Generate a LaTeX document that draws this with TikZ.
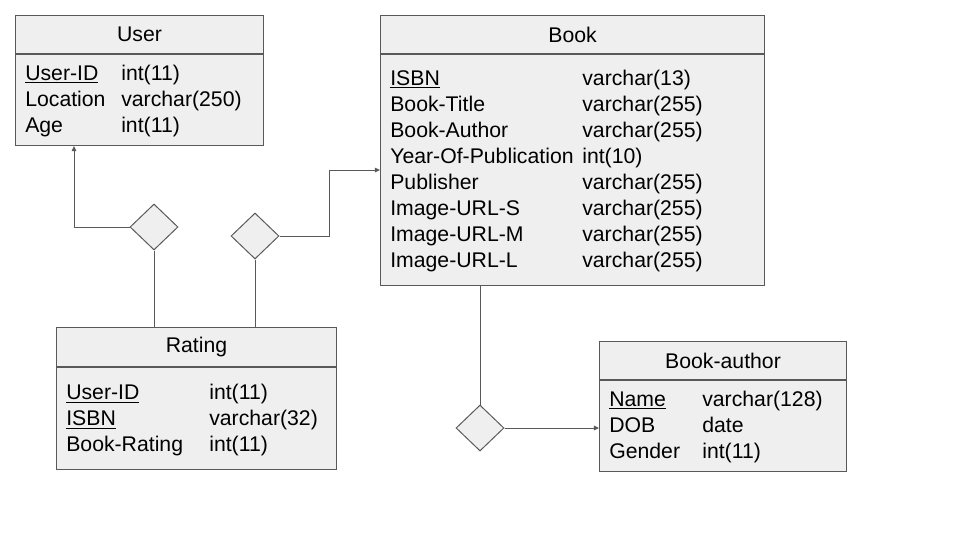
\documentclass[tikz,border=0pt]{standalone}
\usepackage{fontspec}
\setmainfont{Liberation Sans}
\usepackage{array}
\usetikzlibrary{shapes.geometric,arrows.meta,positioning,calc}
\definecolor{boxgray}{HTML}{EFEFEF}
\definecolor{linegray}{HTML}{595959}
\newcommand{\erfont}{\fontsize{15.1}{18.5}\selectfont}

\begin{document}
\begin{tikzpicture}[x=0.025cm, y=-0.025cm,
    entityhead/.style={draw=linegray, fill=boxgray, line width=0.7pt, anchor=north west,
                       minimum height=0.95cm, inner sep=0pt, font=\erfont},
    entitybody/.style={draw=linegray, fill=boxgray, line width=0.7pt, anchor=north,
                       inner sep=0pt},
    fields/.style={anchor=west, inner sep=0pt, font=\erfont, align=left},
    relation/.style={draw=linegray, fill=boxgray, line width=0.7pt, diamond,
                     minimum width=1.2cm, minimum height=1.15cm, inner sep=0pt},
    conn/.style={draw=linegray, line width=0.7pt},
    link/.style={conn, -{Triangle[length=3.6pt, width=3.2pt]}}
]
\useasboundingbox (0,0) rectangle (960,540);

% --- entity: User ---
\node[entityhead, minimum width=6.2cm] (user) at (15,15) {User};
\node[entitybody, minimum width=6.2cm, minimum height=2.275cm] (user-body) at (user.south) {};
\node[fields] (user-fields) at ($(user-body.west)+(10,1)$) {%
  \begin{tabular}{@{}p{2.4cm}@{}l@{}}
  \underline{User-ID} & int(11)\\
  Location & varchar(250)\\
  Age & int(11)
  \end{tabular}};

% --- entity: Book ---
\node[entityhead, minimum width=9.6cm] (book) at (380,15) {Book};
\node[entitybody, minimum width=9.6cm, minimum height=5.775cm] (book-body) at (book.south) {};
\node[fields] (book-fields) at ($(book-body.west)+(10,1)$) {%
  \begin{tabular}{@{}p{4.8cm}@{}l@{}}
  \underline{ISBN} & varchar(13)\\
  Book-Title & varchar(255)\\
  Book-Author & varchar(255)\\
  Year-Of-Publication & int(10)\\
  Publisher & varchar(255)\\
  Image-URL-S & varchar(255)\\
  Image-URL-M & varchar(255)\\
  Image-URL-L & varchar(255)
  \end{tabular}};

% --- entity: Rating ---
\node[entityhead, minimum width=7cm, minimum height=0.975cm] (rating) at (56,327) {Rating};
\node[entitybody, minimum width=7cm, minimum height=2.55cm] (rating-body) at (rating.south) {};
\node[fields] (rating-fields) at ($(rating-body.west)+(10,2)$) {%
  \begin{tabular}{@{}p{3.575cm}@{}l@{}}
  \underline{User-ID} & int(11)\\
  \underline{ISBN} & varchar(32)\\
  Book-Rating & int(11)
  \end{tabular}};

% --- entity: Book-author ---
\node[entityhead, minimum width=6.175cm] (author) at (599,341) {Book-author};
\node[entitybody, minimum width=6.175cm, minimum height=2.275cm] (author-body) at (author.south) {};
\node[fields] (author-fields) at ($(author-body.west)+(10,1)$) {%
  \begin{tabular}{@{}p{2.325cm}@{}l@{}}
  \underline{Name} & varchar(128)\\
  DOB & date\\
  Gender & int(11)
  \end{tabular}};

% --- relationships ---
\node[relation] (rel-user) at (154,227) {};
\node[relation] (rel-book) at (255,236) {};
\node[relation] (rel-author) at (480,428) {};

% --- connections ---
\draw[link] (rel-user.west) -| ($(user-body.south west)+(59,0)$);
\draw[conn] (rel-user.south) -- (rel-user.south |- rating.north);
\draw[conn] (rel-book.south) -- (rel-book.south |- rating.north);
\draw[link] (rel-book.east) -| ($(rel-book.east)!0.5!(book-body.west)$) |- (book-body.west);
\draw[conn] (rel-author.north) -- (rel-author.north |- book-body.south);
\draw[link] (rel-author.east) -- (rel-author.east -| author-body.west);

\end{tikzpicture}
\end{document}
